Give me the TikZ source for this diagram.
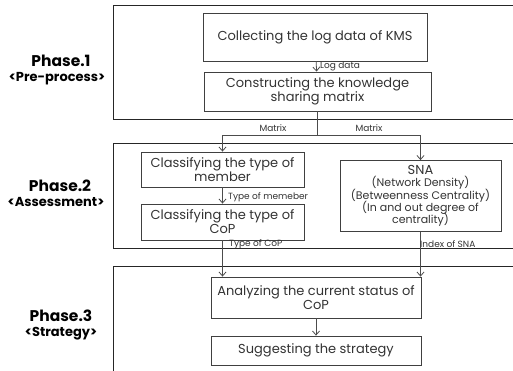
\documentclass[tikz,border=0pt]{standalone}
\usepackage{fontspec}
\setmainfont{Poppins}
\usetikzlibrary{arrows.meta}

\newcommand{\tightlines}{\lineskiplimit=-100pt\relax}
\tikzset{
  stepbox/.style={draw=black!75, line width=0.8pt, align=center, inner sep=0pt,
    font=\fontsize{13}{14}\selectfont\tightlines, text=black!80},
  phasebox/.style={draw=black!85, line width=0.8pt},
  wire/.style={draw=black!70, line width=0.8pt},
  flow/.style={wire, -{Straight Barb[length=4pt,width=7pt]}},
  tag/.style={font=\fontsize{9}{10}\selectfont, inner sep=0pt, text=black!80},
  phase/.style={font=\bfseries\fontsize{15.5}{17}\selectfont, inner sep=0pt, anchor=base},
  phasesub/.style={font=\bfseries\fontsize{13}{15}\selectfont, inner sep=0pt, anchor=base}
}

\begin{document}
\begin{tikzpicture}[x=1pt,y=-1pt]
\useasboundingbox (0,0) rectangle (513,371);
\clip (0,0) rectangle (513,371);

% phase frames (open to the right)
\draw[phasebox] (113,5) rectangle (530,119);
\draw[phasebox] (113,143) rectangle (530,248);
\draw[phasebox] (113,266) rectangle (530,390);

% phase labels
\node[phase] (p1) at (61,67) {Phase.1};
\node[phasesub] (p1s) at (57,82) {<Pre-process>};
\node[phase] (p2) at (60,192) {Phase.2};
\node[phasesub] (p2s) at (56,207) {<Assessment>};
\node[phase] (p3) at (61,321) {Phase.3};
\node[phasesub] (p3s) at (61,336) {<Strategy>};

% steps
\node[stepbox, minimum width=224pt, minimum height=48pt] (collect) at (315,37) {Collecting the log data of KMS};
\node[stepbox, minimum width=227pt, minimum height=39pt] (matrix) at (317.5,91.5) {Constructing the knowledge\\sharing matrix};
\node[stepbox, minimum width=163pt, minimum height=35pt] (member) at (222.5,169.5) {Classifying the type of\\member};
\node[stepbox, minimum width=163pt, minimum height=36pt] (cop) at (222.5,222) {Classifying the type of\\CoP};
\node[stepbox, minimum width=161pt, minimum height=71pt, font=\fontsize{11}{12.3}\selectfont\tightlines] (sna) at (420.5,196)
  {{\fontsize{13}{13}\selectfont SNA}\\(Network Density)\\(Betweenness Centrality)\\(In and out degree of\\centrality)};
\node[stepbox, minimum width=210pt, minimum height=41pt] (analyze) at (316,297.5) {Analyzing the current status of\\CoP};
\node[stepbox, minimum width=210pt, minimum height=29pt] (suggest) at (316,350.5) {Suggesting the strategy};

% connectors
\draw[flow] (collect) -- (matrix);
\coordinate (split) at (matrix.south |- 0,135);
\draw[wire] (matrix.south) -- (split);
\draw[flow] (split) -| (member.north);
\draw[flow] (split) -| (sna.north);
\draw[flow] (member) -- (cop);
\draw[flow] (cop.south) -- (cop.south |- analyze.north);
\draw[flow] (sna.south) -- (sna.south |- analyze.north);
\draw[flow] (analyze) -- (suggest);

% connector labels
\node[tag, anchor=west] (l1) at (320,66) {Log data};
\node[tag] (l2) at (273,128) {Matrix};
\node[tag] (l3) at (369,128) {Matrix};
\node[tag, anchor=west] (l4) at (228,197) {Type of memeber};
\node[tag, anchor=west] (l5) at (229,244) {Type of CoP};
\node[tag, anchor=west] (l6) at (420,244) {Index of SNA};

\end{tikzpicture}
\end{document}
